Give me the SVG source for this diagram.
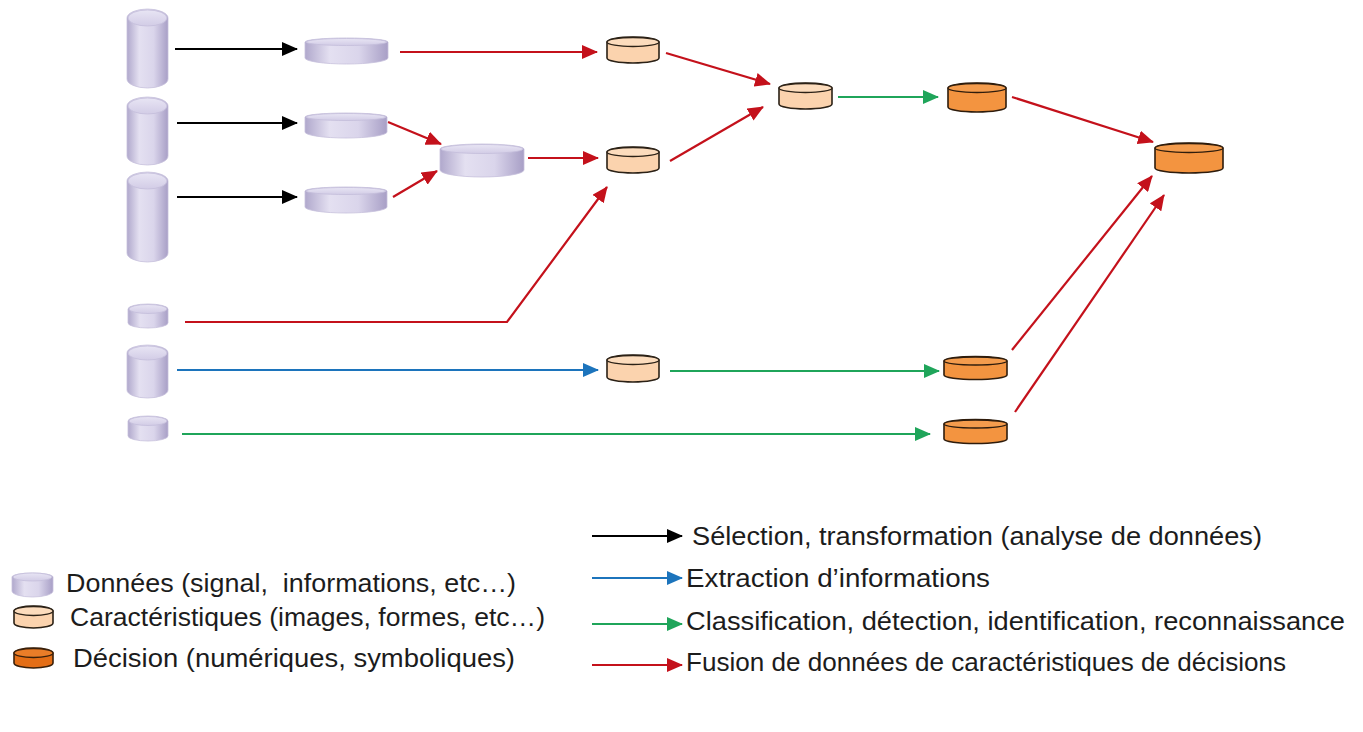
<svg xmlns="http://www.w3.org/2000/svg" width="1363" height="732" viewBox="0 0 1363 732">
  <defs>
    <linearGradient id="lav" x1="0" y1="0" x2="1" y2="0">
      <stop offset="0" stop-color="#B0A8CC"/>
      <stop offset="0.3" stop-color="#E4E0F1"/>
      <stop offset="0.65" stop-color="#DAD5EB"/>
      <stop offset="1" stop-color="#A89FC6"/>
    </linearGradient>
    <linearGradient id="lavTop" x1="0" y1="0" x2="0" y2="1">
      <stop offset="0" stop-color="#E8E5F4"/>
      <stop offset="1" stop-color="#D2CCE6"/>
    </linearGradient>
    <marker id="ah-black" viewBox="0 0 16 14" refX="15" refY="7" markerWidth="16" markerHeight="14" markerUnits="userSpaceOnUse" orient="auto">
      <path d="M0,0 L16,7 L0,14 Z" fill="#000"/>
    </marker>
    <marker id="ah-red" viewBox="0 0 16 14" refX="15" refY="7" markerWidth="16" markerHeight="14" markerUnits="userSpaceOnUse" orient="auto">
      <path d="M0,0 L16,7 L0,14 Z" fill="#C4111B"/>
    </marker>
    <marker id="ah-green" viewBox="0 0 16 14" refX="15" refY="7" markerWidth="16" markerHeight="14" markerUnits="userSpaceOnUse" orient="auto">
      <path d="M0,0 L16,7 L0,14 Z" fill="#1FA55A"/>
    </marker>
    <marker id="ah-blue" viewBox="0 0 16 14" refX="15" refY="7" markerWidth="16" markerHeight="14" markerUnits="userSpaceOnUse" orient="auto">
      <path d="M0,0 L16,7 L0,14 Z" fill="#1C74BC"/>
    </marker>
  </defs>
  <style>
    .lav { fill: url(#lav); stroke: #C6C0DC; stroke-width: 0.8; }
    .lavtop { fill: url(#lavTop); stroke: #C4BEDA; stroke-width: 0.8; }
    .feat { fill: #FBD3AE; stroke: #2B2116; stroke-width: 1.6; }
    .featTop { fill: #FCDCBD; stroke: #2B2116; stroke-width: 1.3; }
    .dec { fill: #F39440; stroke: #2E1C0C; stroke-width: 1.6; }
    .decTop { fill: #F49C4D; stroke: #2E1C0C; stroke-width: 1.3; }
    .decL { fill: #E46E16; stroke: #3A200A; stroke-width: 1.6; }
    .decLTop { fill: #EA7D28; stroke: #3A200A; stroke-width: 1.3; }
    .c { fill: none; stroke-width: 2.2; }
    .k { stroke: #000; marker-end: url(#ah-black); }
    .r { stroke: #C4111B; marker-end: url(#ah-red); }
    .g { stroke: #1FA55A; marker-end: url(#ah-green); }
    .b { stroke: #1C74BC; marker-end: url(#ah-blue); }
    .t { font-family: "Liberation Sans", Arial, sans-serif; font-size: 26px; fill: #1C1C1C; white-space: pre; }
  </style>

  <rect width="1363" height="732" fill="#FFFFFF"/>

  <!-- connectors -->
  <g id="connectors">
    <line class="c k" x1="175" y1="49" x2="297" y2="49"/>
    <line class="c k" x1="177" y1="123" x2="297" y2="123"/>
    <line class="c k" x1="177" y1="197" x2="297" y2="197"/>
    <line class="c r" x1="400" y1="52" x2="597" y2="52"/>
    <line class="c r" x1="388" y1="122" x2="441" y2="144"/>
    <line class="c r" x1="393" y1="197" x2="437" y2="171"/>
    <line class="c r" x1="528" y1="158" x2="598" y2="158"/>
    <line class="c r" x1="666" y1="53" x2="770" y2="84"/>
    <line class="c r" x1="670" y1="161" x2="763" y2="107"/>
    <line class="c g" x1="838" y1="97" x2="938" y2="97"/>
    <line class="c r" x1="1012" y1="97" x2="1153" y2="142"/>
    <polyline class="c r" points="185,322 507,322 607,187"/>
    <line class="c b" x1="177" y1="370" x2="598" y2="370"/>
    <line class="c g" x1="670" y1="371" x2="939" y2="371"/>
    <line class="c g" x1="182" y1="434" x2="930" y2="434"/>
    <line class="c r" x1="1012" y1="350" x2="1152" y2="176"/>
    <line class="c r" x1="1015" y1="412" x2="1164" y2="195"/>
  </g>

  <!-- source data (vertical cylinders) -->
  <g id="data-a">
    <path class="lav" d="M127,18 V79 A20.5,9 0 0 0 168,79 V18 A20.5,9 0 0 0 127,18 Z"/>
    <ellipse class="lavtop" cx="147.5" cy="18" rx="19.5" ry="8"/>
  </g>
  <g id="data-b">
    <path class="lav" d="M127,106 V156 A20.5,9 0 0 0 168,156 V106 A20.5,9 0 0 0 127,106 Z"/>
    <ellipse class="lavtop" cx="147.5" cy="106" rx="19.5" ry="8"/>
  </g>
  <g id="data-c">
    <path class="lav" d="M127,181 V253 A20.5,9 0 0 0 168,253 V181 A20.5,9 0 0 0 127,181 Z"/>
    <ellipse class="lavtop" cx="147.5" cy="181" rx="19.5" ry="8"/>
  </g>
  <g id="data-d">
    <path class="lav" d="M128,309 V323 A20,5 0 0 0 168,323 V309 A20,5 0 0 0 128,309 Z"/>
    <ellipse class="lavtop" cx="148" cy="309" rx="19" ry="4.5"/>
  </g>
  <g id="data-e">
    <path class="lav" d="M127,353 V390 A20.5,8 0 0 0 168,390 V353 A20.5,8 0 0 0 127,353 Z"/>
    <ellipse class="lavtop" cx="147.5" cy="353" rx="19.5" ry="7"/>
  </g>
  <g id="data-f">
    <path class="lav" d="M128,421 V436 A20,5 0 0 0 168,436 V421 A20,5 0 0 0 128,421 Z"/>
    <ellipse class="lavtop" cx="148" cy="421" rx="19" ry="4.5"/>
  </g>

  <!-- transformed data (flat discs) -->
  <g id="data-t1">
    <path class="lav" d="M305,42 V58 A41.5,6 0 0 0 388,58 V42 A41.5,4 0 0 0 305,42 Z"/>
    <ellipse class="lavtop" cx="346.5" cy="42" rx="40.5" ry="3.5"/>
  </g>
  <g id="data-t2">
    <path class="lav" d="M305,117 V132 A41,6 0 0 0 387,132 V117 A41,4 0 0 0 305,117 Z"/>
    <ellipse class="lavtop" cx="346" cy="117" rx="40" ry="3.5"/>
  </g>
  <g id="data-t3">
    <path class="lav" d="M305,191 V207 A41,6 0 0 0 387,207 V191 A41,4 0 0 0 305,191 Z"/>
    <ellipse class="lavtop" cx="346" cy="191" rx="40" ry="3.5"/>
  </g>
  <g id="data-merged">
    <path class="lav" d="M440,149 V170 A42,7 0 0 0 524,170 V149 A42,5 0 0 0 440,149 Z"/>
    <ellipse class="lavtop" cx="482" cy="149" rx="41" ry="4.5"/>
  </g>

  <!-- features -->
  <g id="feat-1">
    <path class="feat" d="M607,42 V58 A26,5 0 0 0 659,58 V42 A26,5 0 0 0 607,42 Z"/>
    <ellipse class="featTop" cx="633" cy="42" rx="26" ry="4.5"/>
  </g>
  <g id="feat-2">
    <path class="feat" d="M607,152 V168 A26,5 0 0 0 659,168 V152 A26,5 0 0 0 607,152 Z"/>
    <ellipse class="featTop" cx="633" cy="152" rx="26" ry="4.5"/>
  </g>
  <g id="feat-3">
    <path class="feat" d="M779,88 V104 A26.5,5 0 0 0 832,104 V88 A26.5,5 0 0 0 779,88 Z"/>
    <ellipse class="featTop" cx="805.5" cy="88" rx="26.5" ry="4.5"/>
  </g>
  <g id="feat-4">
    <path class="feat" d="M607,360 V377 A26,5 0 0 0 659,377 V360 A26,5 0 0 0 607,360 Z"/>
    <ellipse class="featTop" cx="633" cy="360" rx="26" ry="4.5"/>
  </g>

  <!-- decisions -->
  <g id="dec-1">
    <path class="dec" d="M948,88 V107 A29,5 0 0 0 1006,107 V88 A29,5 0 0 0 948,88 Z"/>
    <ellipse class="decTop" cx="977" cy="88" rx="29" ry="4.5"/>
  </g>
  <g id="dec-2">
    <path class="dec" d="M944,361 V375 A31.5,4.5 0 0 0 1007,375 V361 A31.5,4.5 0 0 0 944,361 Z"/>
    <ellipse class="decTop" cx="975.5" cy="361" rx="31.5" ry="4"/>
  </g>
  <g id="dec-3">
    <path class="dec" d="M944,424 V439 A31.5,4.5 0 0 0 1007,439 V424 A31.5,4.5 0 0 0 944,424 Z"/>
    <ellipse class="decTop" cx="975.5" cy="424" rx="31.5" ry="4"/>
  </g>
  <g id="dec-final">
    <path class="dec" d="M1155,148 V168 A34,5 0 0 0 1223,168 V148 A34,5 0 0 0 1155,148 Z"/>
    <ellipse class="decTop" cx="1189" cy="148" rx="34" ry="4.5"/>
  </g>

  <!-- legend: node kinds -->
  <g id="legend-data">
    <path class="lav" d="M12,577 V591 A20.5,6 0 0 0 53,591 V577 A20.5,4 0 0 0 12,577 Z"/>
    <ellipse class="lavtop" cx="32.5" cy="577" rx="19.5" ry="4"/>
    <text class="t" x="66" y="592" textLength="450" lengthAdjust="spacingAndGlyphs">Données (signal,  informations, etc…)</text>
  </g>
  <g id="legend-feat">
    <path class="feat" d="M14,611 V623 A19.5,5 0 0 0 53,623 V611 A19.5,5 0 0 0 14,611 Z"/>
    <ellipse class="featTop" cx="33.5" cy="611" rx="19.5" ry="4.5"/>
    <text class="t" x="70" y="626" textLength="475" lengthAdjust="spacingAndGlyphs">Caractéristiques (images, formes, etc…)</text>
  </g>
  <g id="legend-dec">
    <path class="decL" d="M14,653 V663 A19.5,5 0 0 0 53,663 V653 A19.5,5 0 0 0 14,653 Z"/>
    <ellipse class="decLTop" cx="33.5" cy="653" rx="19.5" ry="4.5"/>
    <text class="t" x="73" y="667" textLength="442" lengthAdjust="spacingAndGlyphs">Décision (numériques, symboliques)</text>
  </g>

  <!-- legend: connector kinds -->
  <g id="legend-arrows">
    <line class="c k" x1="592" y1="536" x2="682" y2="536"/>
    <text class="t" x="692" y="545" textLength="570" lengthAdjust="spacingAndGlyphs">Sélection, transformation (analyse de données)</text>
    <line class="c b" x1="592" y1="578" x2="682" y2="578"/>
    <text class="t" x="686" y="587" textLength="304" lengthAdjust="spacingAndGlyphs">Extraction d’informations</text>
    <line class="c g" x1="592" y1="624" x2="682" y2="624"/>
    <text class="t" x="686" y="630" textLength="659" lengthAdjust="spacingAndGlyphs">Classification, détection, identification, reconnaissance</text>
    <line class="c r" x1="592" y1="665" x2="682" y2="665"/>
    <text class="t" x="686" y="671" textLength="600" lengthAdjust="spacingAndGlyphs">Fusion de données de caractéristiques de décisions</text>
  </g>
</svg>
